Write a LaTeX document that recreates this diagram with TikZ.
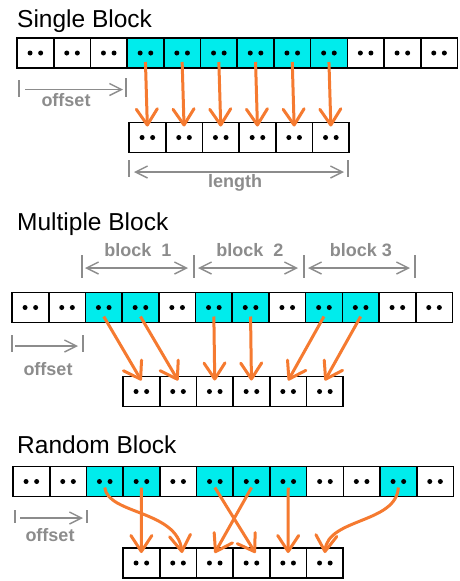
\documentclass[tikz,border=0pt]{standalone}
\usepackage{fontspec}
\setmainfont{Liberation Sans}
\usepackage{xcolor}
\usetikzlibrary{arrows.meta}

\definecolor{selcyan}{RGB}{0,236,236}
\definecolor{copyorange}{RGB}{245,122,48}
\definecolor{dimgray}{RGB}{140,140,140}

\begin{document}
\begin{tikzpicture}[
	x=1pt, y=-1pt,
	cell/.style={draw=black, fill=white, line width=1.6pt, minimum width=36.7pt, minimum height=30pt,
		inner sep=0pt, outer sep=0pt,
		path picture={\fill[black] ([xshift=-5.3pt]path picture bounding box.center) circle (2.5pt)
			([xshift=5.3pt]path picture bounding box.center) circle (2.5pt);}},
	title/.style={anchor=base west, inner sep=0pt, font=\fontsize{24.5}{28}\selectfont},
	dimtext/.style={anchor=base, inner sep=0pt, text=dimgray, font=\fontsize{18}{20}\selectfont\bfseries},
	tick/.style={dimgray, line width=1.4pt},
	dim/.style={dimgray, line width=1.4pt, -{Straight Barb[length=12pt,width=12pt]}},
	dimboth/.style={dim, {Straight Barb[length=12pt,width=12pt]}-{Straight Barb[length=12pt,width=12pt]}},
	copyarrow/.style={copyorange, line width=3pt, -{Straight Barb[length=16pt,width=21pt,round]}}
	]
	\useasboundingbox (0,0) rectangle (459,581);
	
	% ===== SINGLE BLOCK =====
	\node[title] (tS) at (17,27.5) {Single Block};
	\foreach \f [count=\i from 0] in {white,white,white,selcyan,selcyan,selcyan,selcyan,selcyan,selcyan,white,white,white}
		\node[cell, fill=\f] (St\i) at ({17+36.7*(\i+0.5)},53) {};
	\foreach \i in {0,...,5}
		\node[cell] (Sb\i) at ({129+36.7*(\i+0.5)},137.5) {};
	\foreach \a/\b in {3/0,4/1,5/2,6/3,7/4,8/5}
		\draw[copyarrow] ([yshift=-9pt]St\a.center) -- ([yshift=-4pt]Sb\b.north);
	
	\coordinate (offS1) at (25,89.5);
	\coordinate (offS2) at (123,89.5);
	\draw[tick] (19,80) -- (19,97);
	\draw[tick] (126,78) -- (126,97);
	\draw[dim] (offS1) -- (offS2);
	\node[dimtext] (offSt) at (66,106.7) {offset};
	
	\coordinate (lenS1) at (134,172);
	\coordinate (lenS2) at (344,172);
	\draw[tick] (129,160) -- (129,177);
	\draw[tick] (348,160) -- (348,177);
	\draw[dimboth] (lenS1) -- (lenS2);
	\node[dimtext] (lenSt) at (235,187.5) {length};
	
	% ===== MULTIPLE BLOCK =====
	\node[title] (tM) at (17,230.5) {Multiple Block};
	\foreach \x in {82,194,304,415}
		\draw[tick] (\x,255) -- (\x,278);
	\coordinate (bl1a) at (85,268);  \coordinate (bl1b) at (188,268);
	\coordinate (bl2a) at (198,268); \coordinate (bl2b) at (298,268);
	\coordinate (bl3a) at (308,268); \coordinate (bl3b) at (410,268);
	\draw[dimboth] (bl1a) -- (bl1b);
	\draw[dimboth] (bl2a) -- (bl2b);
	\draw[dimboth] (bl3a) -- (bl3b);
	\node[dimtext] (bl1t) at (138,256.7) {block~~1};
	\node[dimtext] (bl2t) at (250,256.7) {block~~2};
	\node[dimtext] (bl3t) at (361,256.7) {block 3};
	
	\foreach \f [count=\i from 0] in {white,white,selcyan,selcyan,white,selcyan,selcyan,white,selcyan,selcyan,white,white}
		\node[cell, fill=\f] (Mt\i) at ({12+36.7*(\i+0.5)},307.5) {};
	\foreach \i in {0,...,5}
		\node[cell] (Mb\i) at ({123+36.7*(\i+0.5)},391.5) {};
	\foreach \a/\b in {2/0,3/1,5/2,6/3,8/4,9/5}
		\draw[copyarrow] ([yshift=-9pt]Mt\a.center) -- ([yshift=-4pt]Mb\b.north);
	
	\coordinate (offM1) at (15,346);
	\coordinate (offM2) at (78,346);
	\draw[tick] (12,335) -- (12,352);
	\draw[tick] (83,335) -- (83,352);
	\draw[dim] (offM1) -- (offM2);
	\node[dimtext] (offMt) at (48,375.7) {offset};
	
	% ===== RANDOM BLOCK =====
	\node[title] (tR) at (17,453) {Random Block};
	\foreach \f [count=\i from 0] in {white,white,selcyan,selcyan,white,selcyan,selcyan,selcyan,white,white,selcyan,white}
		\node[cell, fill=\f] (Rt\i) at ({13+36.7*(\i+0.5)},481.5) {};
	\foreach \i in {0,...,5}
		\node[cell] (Rb\i) at ({123+36.7*(\i+0.5)},563) {};
	\draw[copyarrow] ([yshift=-6pt]Rt2.center) .. controls +(3,27) and +(-5,-43) .. ([xshift=4pt,yshift=-5pt]Rb1.north);
	\draw[copyarrow] ([yshift=-6pt]Rt3.center) -- ([yshift=-5pt]Rb0.north);
	\draw[copyarrow] ([yshift=-6pt]Rt5.center) -- ([xshift=4pt,yshift=-5pt]Rb3.north);
	\draw[copyarrow] ([yshift=-6pt]Rt6.center) -- ([yshift=-5pt]Rb2.north);
	\draw[copyarrow] ([yshift=-6pt]Rt7.center) -- ([yshift=-5pt]Rb4.north);
	\draw[copyarrow] ([yshift=-6pt]Rt10.center) .. controls +(-2,36) and +(3,-35) .. ([yshift=-5pt]Rb5.north);
	
	\coordinate (offR1) at (20,518);
	\coordinate (offR2) at (83,518);
	\draw[tick] (15,510) -- (15,523);
	\draw[tick] (87,510) -- (87,523);
	\draw[dim] (offR1) -- (offR2);
	\node[dimtext] (offRt) at (50,541.5) {offset};
\end{tikzpicture}
\end{document}
